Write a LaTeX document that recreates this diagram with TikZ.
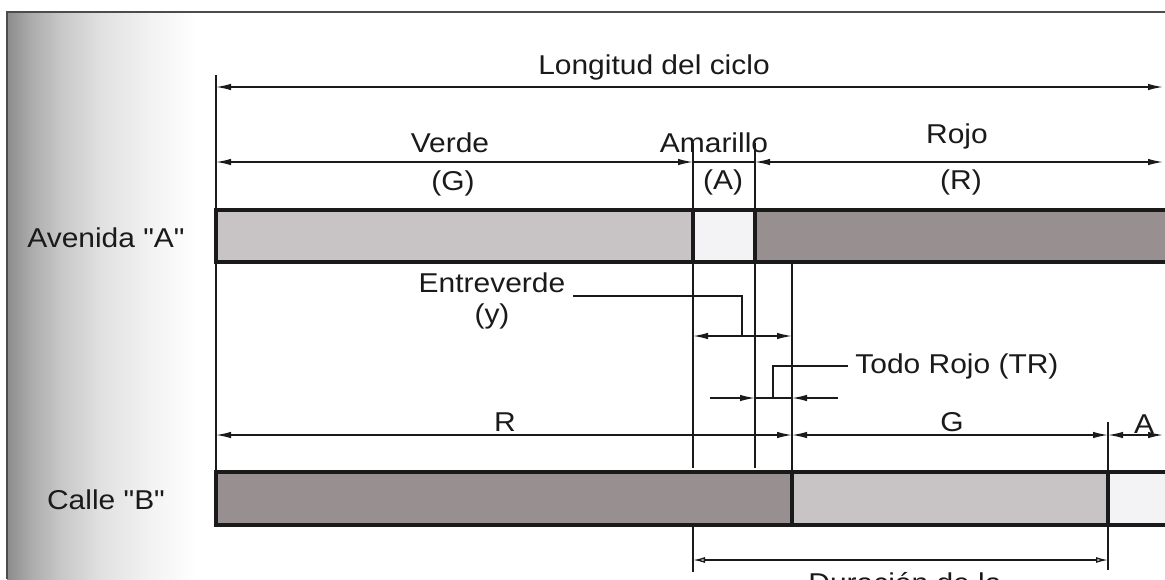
\documentclass[tikz,border=0pt]{standalone}
\usepackage{fontspec}
\setmainfont{Liberation Sans}
\usetikzlibrary{arrows.meta}
\definecolor{greenfill}{HTML}{C8C4C5}
\definecolor{redfill}{HTML}{978F90}
\definecolor{yellowfill}{HTML}{F3F3F5}
\definecolor{inkc}{HTML}{1A1A1A}
\newcommand{\strq}{\XeTeXglyph\XeTeXcharglyph"22\relax}
\begin{document}
\begin{tikzpicture}[x=0.02cm,y=-0.02cm,
  lbl/.style={font=\fontsize{15.5}{18}\selectfont, text=inkc, inner sep=0pt, xscale=1.1},
  dimline/.style={draw=inkc, line width=0.8pt},
  barline/.style={draw=inkc, line width=1.8pt},
  frameline/.style={draw=black!70, line width=1.1pt},
  both/.style={dimline, {Latex[length=3mm,width=1.3mm]}-{Latex[length=3mm,width=1.3mm]}},
  toarr/.style={dimline, -{Latex[length=3mm,width=1.3mm]}},
  openboth/.style={dimline, {Latex[open,length=2.4mm,width=1.2mm]}-{Latex[open,length=2.4mm,width=1.2mm]}}
]
\useasboundingbox (0,0) rectangle (1165,579);
\clip (0,0) rectangle (1165,579);
\fill[white] (0,0) rectangle (1165,579);
% scanned page fade at the left
\shade[left color=black!45, right color=black!33] (7,12) rectangle (30.5,579);
\shade[left color=black!33, right color=black!22] (30,12) rectangle (60.5,579);
\shade[left color=black!22, right color=black!12] (60,12) rectangle (100.5,579);
\shade[left color=black!12, right color=black!5] (100,12) rectangle (150.5,579);
\shade[left color=black!5, right color=white] (150,12) rectangle (196,579);
\draw[frameline] (7,579) -- (7,12) -- (1165,12);

% ---------- coordinates ----------
\coordinate (eL0) at (216,75);   \coordinate (eL1) at (216,472);
\coordinate (eG0) at (693,143);  \coordinate (eG1) at (693,468);
\coordinate (eG2) at (693,527);  \coordinate (eG3) at (693,572);
\coordinate (eA0) at (755,143);  \coordinate (eA1) at (755,468);
\coordinate (eR0) at (792,262);  \coordinate (eR1) at (792,472);
\coordinate (eB0) at (1108,422); \coordinate (eB1) at (1108,570);

% ---------- extension lines ----------
\draw[dimline] (eL0) -- (eL1);
\draw[dimline] (eG0) -- (eG1);
\draw[dimline] (eG2) -- (eG3);
\draw[dimline] (eA0) -- (eA1);
\draw[dimline] (eR0) -- (eR1);
\draw[dimline] (eB0) -- (eB1);

% ---------- Avenida "A" bar ----------
\fill[greenfill]  (216,210) rectangle (693,262);
\fill[yellowfill] (693,210) rectangle (755,262);
\fill[redfill]    (755,210) rectangle (1170,262);
\draw[barline] (1170,210) -- (216,210) -- (216,262) -- (1170,262);
\draw[barline] (693,210) -- (693,262);
\draw[barline] (755,210) -- (755,262);

% ---------- Calle "B" bar ----------
\fill[redfill]    (216,472) rectangle (792,525);
\fill[greenfill]  (792,472) rectangle (1108,525);
\fill[yellowfill] (1108,472) rectangle (1170,525);
\draw[barline] (1170,472) -- (216,472) -- (216,525) -- (1170,525);
\draw[barline] (792,472) -- (792,525);
\draw[barline] (1108,472) -- (1108,525);

% ---------- dimension lines ----------
\coordinate (c0) at (216,87);   \coordinate (c1) at (1163,87);
\draw[both] (c0) -- (c1);

\coordinate (v0) at (216,162);  \coordinate (v1) at (693,162);
\coordinate (r0) at (755,162);  \coordinate (r1) at (1163,162);
\draw[both] (v0) -- (v1);
\draw[dimline] (v1) -- (r0);
\draw[both] (r0) -- (r1);

\coordinate (y0) at (693,336);  \coordinate (y1) at (792,336);
\draw[both] (y0) -- (y1);

\coordinate (t0) at (710,398);  \coordinate (t1) at (755,398);
\coordinate (t2) at (792,398);  \coordinate (t3) at (838,398);
\draw[toarr] (t0) -- (t1);
\draw[dimline] (t1) -- (t2);
\draw[toarr] (t3) -- (t2);

\coordinate (b0) at (216,435);  \coordinate (b1) at (792,435);
\coordinate (b2) at (1108,435); \coordinate (b3) at (1163,435);
\draw[both] (b0) -- (b1);
\draw[both] (b1) -- (b2);
\draw[both] (b2) -- (b3);

\coordinate (d0) at (693,560);  \coordinate (d1) at (1108,560);
\draw[openboth] (d0) -- (d1);

% ---------- leaders ----------
\coordinate (ey0) at (573,296); \coordinate (ey1) at (742,296); \coordinate (ey2) at (742,336);
\draw[dimline] (ey0) -- (ey1) -- (ey2);
\coordinate (tr0) at (773,398); \coordinate (tr1) at (773,366); \coordinate (tr2) at (848,366);
\draw[dimline] (tr0) -- (tr1) -- (tr2);

% ---------- labels ----------
\node[lbl, anchor=base] (longitud) at (654,74) {Longitud del ciclo};
\node[lbl, anchor=base] (verde) at (450,152) {Verde};
\node[lbl] (vg) at (453,183) {(G)};
\node[lbl, anchor=base] (amarillo) at (714,152) {Amarillo};
\node[lbl] (va) at (723,182) {(A)};
\node[lbl, anchor=base] (rojo) at (957,143) {Rojo};
\node[lbl] (vr) at (961,182) {(R)};
\node[lbl] (avenida) at (106,238) {Avenida \strq A\strq};
\node[lbl] (calle) at (106,500) {Calle \strq B\strq};
\node[lbl, anchor=base] (entre) at (492,292) {Entreverde};
\node[lbl] (ey) at (492,316) {(y)};
\node[lbl, anchor=base west] (todo) at (855,373) {Todo Rojo (TR)};
\node[lbl, anchor=base] (lr) at (505,431) {R};
\node[lbl, anchor=base] (lg) at (952,431) {G};
\node[lbl, anchor=base] (la) at (1144,433) {A};
\node[lbl, anchor=base] (dur) at (905,592) {Duración de la};
\end{tikzpicture}
\end{document}
